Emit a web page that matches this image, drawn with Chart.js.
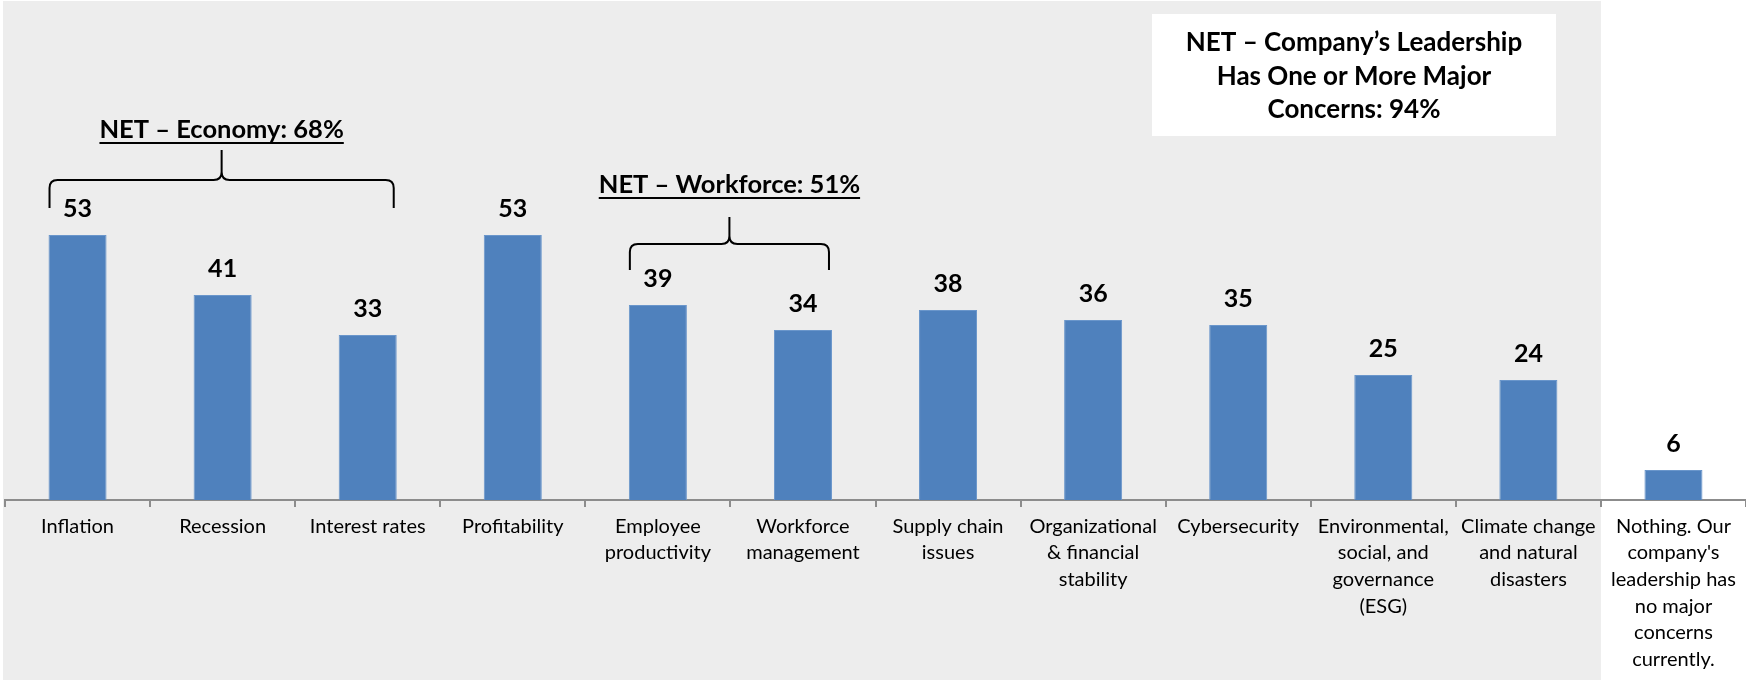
<!DOCTYPE html>
<html>
<head>
<meta charset="utf-8">
<script src="https://cdn.jsdelivr.net/npm/chart.js@4.4.1/dist/chart.umd.min.js"></script>
<style>
  html, body { margin: 0; padding: 0; background: #fff; }
  #wrap { width: 1746px; height: 680px; }
</style>
</head>
<body>
<div id="wrap"><canvas id="chart" width="1746" height="680"></canvas></div>
<script>
const categories = [
  'Inflation',
  'Recession',
  'Interest rates',
  'Profitability',
  ['Employee', 'productivity'],
  ['Workforce', 'management'],
  ['Supply chain', 'issues'],
  ['Organizational', '& financial', 'stability'],
  'Cybersecurity',
  ['Environmental,', 'social, and', 'governance', '(ESG)'],
  ['Climate change', 'and natural', 'disasters'],
  ['Nothing. Our', "company's", 'leadership has', 'no major', 'concerns', 'currently.']
];
const values = [53, 41, 33, 53, 39, 34, 38, 36, 35, 25, 24, 6];

// grouped NET labels: which bars the brace spans
const groupText = ['NET – Economy: 68%', 'NET – Workforce: 51%'];
const groupFrom = [0, 4];
const groupTo = [2, 5];

const summaryLines = ['NET – Company’s Leadership', 'Has One or More Major', 'Concerns: 94%'];

const FONT = 'Lato, "Open Sans", sans-serif';
const BAR_COLOR = '#4f81bd';

// brace layout in pixels (line, ends, peak, text baseline)
const braceLayout = [
  { line: 180, ends: 208, peak: 150, text: 138 },
  { line: 244, ends: 270, peak: 217, text: 193 }
];

function drawBrace(ctx, l, r, yLine, yEnd, yTop) {
  const m = (l + r) / 2, rad = 8;
  ctx.beginPath();
  ctx.moveTo(l, yEnd);
  ctx.lineTo(l, yLine + rad);
  ctx.quadraticCurveTo(l, yLine, l + rad, yLine);
  ctx.lineTo(m - rad, yLine);
  ctx.quadraticCurveTo(m, yLine, m, yLine - rad);
  ctx.lineTo(m, yTop);
  ctx.moveTo(m, yLine - rad);
  ctx.quadraticCurveTo(m, yLine, m + rad, yLine);
  ctx.lineTo(r - rad, yLine);
  ctx.quadraticCurveTo(r, yLine, r, yLine + rad);
  ctx.lineTo(r, yEnd);
  ctx.stroke();
}

const annotations = {
  id: 'annotations',
  beforeDraw(chart) {
    const { ctx } = chart;
    const x = chart.scales.x;
    const half = (x.getPixelForValue(1) - x.getPixelForValue(0)) / 2;
    ctx.save();
    ctx.fillStyle = '#fff';
    ctx.fillRect(0, 0, chart.width, chart.height);
    // gray panel behind all categories except the last one
    ctx.fillStyle = '#ededed';
    const edge = x.getPixelForValue(categories.length - 2) + half;
    ctx.fillRect(3, 1, edge - 3, chart.height - 1);
    ctx.restore();
  },
  afterDatasetsDraw(chart) {
    const { ctx } = chart;
    const meta = chart.getDatasetMeta(0);
    ctx.save();
    ctx.fillStyle = '#000';
    ctx.font = 'bold 25px ' + FONT;
    ctx.textAlign = 'center';
    ctx.textBaseline = 'alphabetic';
    meta.data.forEach((bar, i) => {
      ctx.fillText(String(values[i]), bar.x, bar.y - 18);
    });
    ctx.restore();
  },
  afterDraw(chart) {
    const { ctx } = chart;
    const meta = chart.getDatasetMeta(0);
    ctx.save();
    ctx.strokeStyle = '#000';
    ctx.fillStyle = '#000';
    ctx.lineWidth = 2;
    groupText.forEach((txt, g) => {
      const a = meta.data[groupFrom[g]], b = meta.data[groupTo[g]];
      const l = a.x - a.width / 2 + 1;
      const r = b.x + b.width / 2 - 3;
      const lay = braceLayout[g];
      drawBrace(ctx, l, r, lay.line, lay.ends, lay.peak);
      const mid = (l + r) / 2;
      ctx.font = 'bold 25.5px ' + FONT;
      ctx.textAlign = 'center';
      ctx.textBaseline = 'alphabetic';
      ctx.fillText(txt, mid, lay.text);
      const w = ctx.measureText(txt).width;
      ctx.beginPath();
      ctx.moveTo(mid - w / 2, lay.text + 5);
      ctx.lineTo(mid + w / 2, lay.text + 5);
      ctx.stroke();
    });

    // summary box, top right
    ctx.fillStyle = '#fff';
    ctx.fillRect(1152, 14, 404, 122);
    ctx.fillStyle = '#000';
    ctx.font = 'bold 26px ' + FONT;
    ctx.textAlign = 'center';
    ctx.textBaseline = 'middle';
    summaryLines.forEach((line, i) => {
      ctx.fillText(line, 1354, 43 + i * 33.5);
    });
    ctx.restore();
  }
};

new Chart(document.getElementById('chart'), {
  type: 'bar',
  data: {
    labels: categories,
    datasets: [{
      data: values,
      backgroundColor: BAR_COLOR,
      borderColor: '#6a96cb',
      borderWidth: 1,
      barPercentage: 0.4,
      categoryPercentage: 1
    }]
  },
  options: {
    responsive: false,
    animation: false,
    devicePixelRatio: 1,
    layout: { padding: { left: 5, right: 0, top: 0, bottom: 0 } },
    plugins: {
      legend: { display: false },
      tooltip: { enabled: false }
    },
    scales: {
      x: {
        grid: {
          display: true,
          drawOnChartArea: false,
          drawTicks: true,
          tickLength: 7,
          color: '#8c8c8c',
          lineWidth: 2,
          offset: true
        },
        border: { display: true, color: '#8c8c8c', width: 2 },
        ticks: {
          color: '#000',
          padding: 6,
          maxRotation: 0,
          autoSkip: false,
          font: { family: FONT, size: 20, lineHeight: 1.33 }
        },
        afterFit(scale) { scale.height = 180; }
      },
      y: {
        display: false,
        min: 0,
        max: 100
      }
    }
  },
  plugins: [annotations]
});
</script>
</body>
</html>
